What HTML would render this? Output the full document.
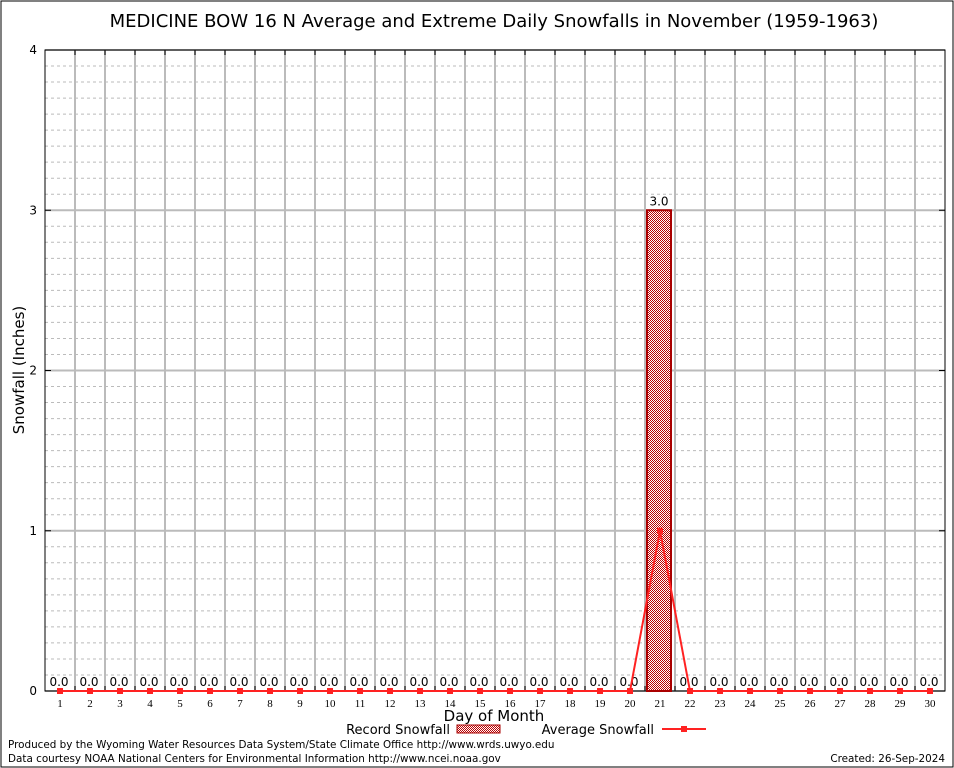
<!DOCTYPE html>
<html><head><meta charset="utf-8"><style>
body{margin:0;background:#fff;}
svg{display:block;font-family:"DejaVu Sans","Liberation Sans",sans-serif;}
</style></head><body>
<svg id="c" width="954" height="768" xmlns="http://www.w3.org/2000/svg">
<defs><pattern id="hatch" width="2" height="2" patternUnits="userSpaceOnUse"><rect width="2" height="2" fill="#fff"/><rect width="1" height="1" fill="#b00"/><rect x="1" y="1" width="1" height="1" fill="#b00"/></pattern></defs>
<rect x="1" y="1" width="952" height="766" fill="none" stroke="#000" stroke-width="1"/>
<text x="494" y="27" font-size="18" text-anchor="middle">MEDICINE BOW 16 N Average and Extreme Daily Snowfalls in November (1959-1963)</text>
<g id="grid"></g><g id="marks"></g>
<text transform="translate(24,370) rotate(-90)" font-size="15" text-anchor="middle">Snowfall (Inches)</text>
<text x="494" y="721" font-size="15" text-anchor="middle">Day of Month</text>
<g><text x="450" y="734" font-size="13" text-anchor="end">Record Snowfall</text><rect x="457" y="725" width="43" height="8" fill="url(#hatch)" stroke="#a00"/></g>
<g><text x="654" y="734" font-size="13" text-anchor="end">Average Snowfall</text><line x1="662" y1="729" x2="706" y2="729" stroke="#f22" stroke-width="2"/><rect x="681" y="726" width="6" height="6" fill="#f22"/></g>
<text x="8" y="748" font-size="10.4">Produced by the Wyoming Water Resources Data System/State Climate Office http://www.wrds.uwyo.edu</text>
<text x="8" y="762" font-size="10.4">Data courtesy NOAA National Centers for Environmental Information http://www.ncei.noaa.gov</text>
<text x="945" y="762" font-size="10.4" text-anchor="end">Created:  26-Sep-2024</text>
</svg>
<script>
const days=[1,2,3,4,5,6,7,8,9,10,11,12,13,14,15,16,17,18,19,20,21,22,23,24,25,26,27,28,29,30];
const recordSnow=[0,0,0,0,0,0,0,0,0,0,0,0,0,0,0,0,0,0,0,0,3.0,0,0,0,0,0,0,0,0,0];
const avgSnow=[0,0,0,0,0,0,0,0,0,0,0,0,0,0,0,0,0,0,0,0,1.0,0,0,0,0,0,0,0,0,0];
const yTicks=[0,1,2,3,4];
const NS='http://www.w3.org/2000/svg';
const L=45,R=945,T=50,B=691,yMax=4;
const x=d=>L+(d-0.5)*(R-L)/days.length;
const y=v=>B-v*(B-T)/yMax;
function mk(t,a,p){const e=document.createElementNS(NS,t);for(const k in a)e.setAttribute(k,a[k]);p.appendChild(e);return e;}
const g=document.getElementById('grid'),m=document.getElementById('marks');
for(let v=0;v<=yMax*10;v++){const yy=y(v/10);
 if(v%10){const l=mk('line',{x1:L,x2:R,y1:yy,y2:yy,stroke:'#bbb','stroke-dasharray':'3,3'},g);}
}
yTicks.forEach(v=>{const yy=y(v);
 const l=mk('line',{x1:L,x2:R,y1:yy,y2:yy,stroke:'#bbb','stroke-width':2},g);
 const t=mk('text',{x:L-8,y:yy+4,'font-size':12,'text-anchor':'end',fill:'#000'},g);t.textContent=v;
});
days.forEach((d,i)=>{
 if(i>0){const xx=L+i*30;const l=mk('line',{x1:xx,x2:xx,y1:T,y2:B,stroke:'#bbb','stroke-width':2},g);
  mk('line',{x1:xx,x2:xx,y1:B,y2:B-5,stroke:'#000'},g);mk('line',{x1:xx,x2:xx,y1:T,y2:T+5,stroke:'#000'},g);}
 const t=mk('text',{x:x(d),y:B+16,'font-size':11,'text-anchor':'middle','font-family':'Liberation Serif, serif'},g);t.textContent=d;
});
const ax=mk('rect',{x:L,y:T,width:R-L,height:B-T,fill:'none',stroke:'#000'},g);
yTicks.forEach(v=>{mk('line',{x1:L,x2:L+6,y1:y(v),y2:y(v),stroke:'#000'},g);mk('line',{x1:R,x2:R-6,y1:y(v),y2:y(v),stroke:'#000'},g);});
days.forEach((d,i)=>{const v=recordSnow[i];
 if(v>0){const r=mk('rect',{x:x(d)-13,y:y(v),width:24,height:B-y(v),fill:'url(#hatch)',stroke:'#a00','stroke-width':2},m);}
 const t=mk('text',{x:x(d)-1,y:y(v)-5,'font-size':12,'text-anchor':'middle'},m);t.textContent=v.toFixed(1);
});
const pl=mk('polyline',{points:days.map((d,i)=>x(d)+','+y(avgSnow[i])).join(' '),fill:'none',stroke:'#f22','stroke-width':2},m);

days.forEach((d,i)=>{const p=mk('rect',{x:x(d)-3,y:y(avgSnow[i])-3,width:6,height:6,fill:'#f22'},m);});
</script>
</body></html>
